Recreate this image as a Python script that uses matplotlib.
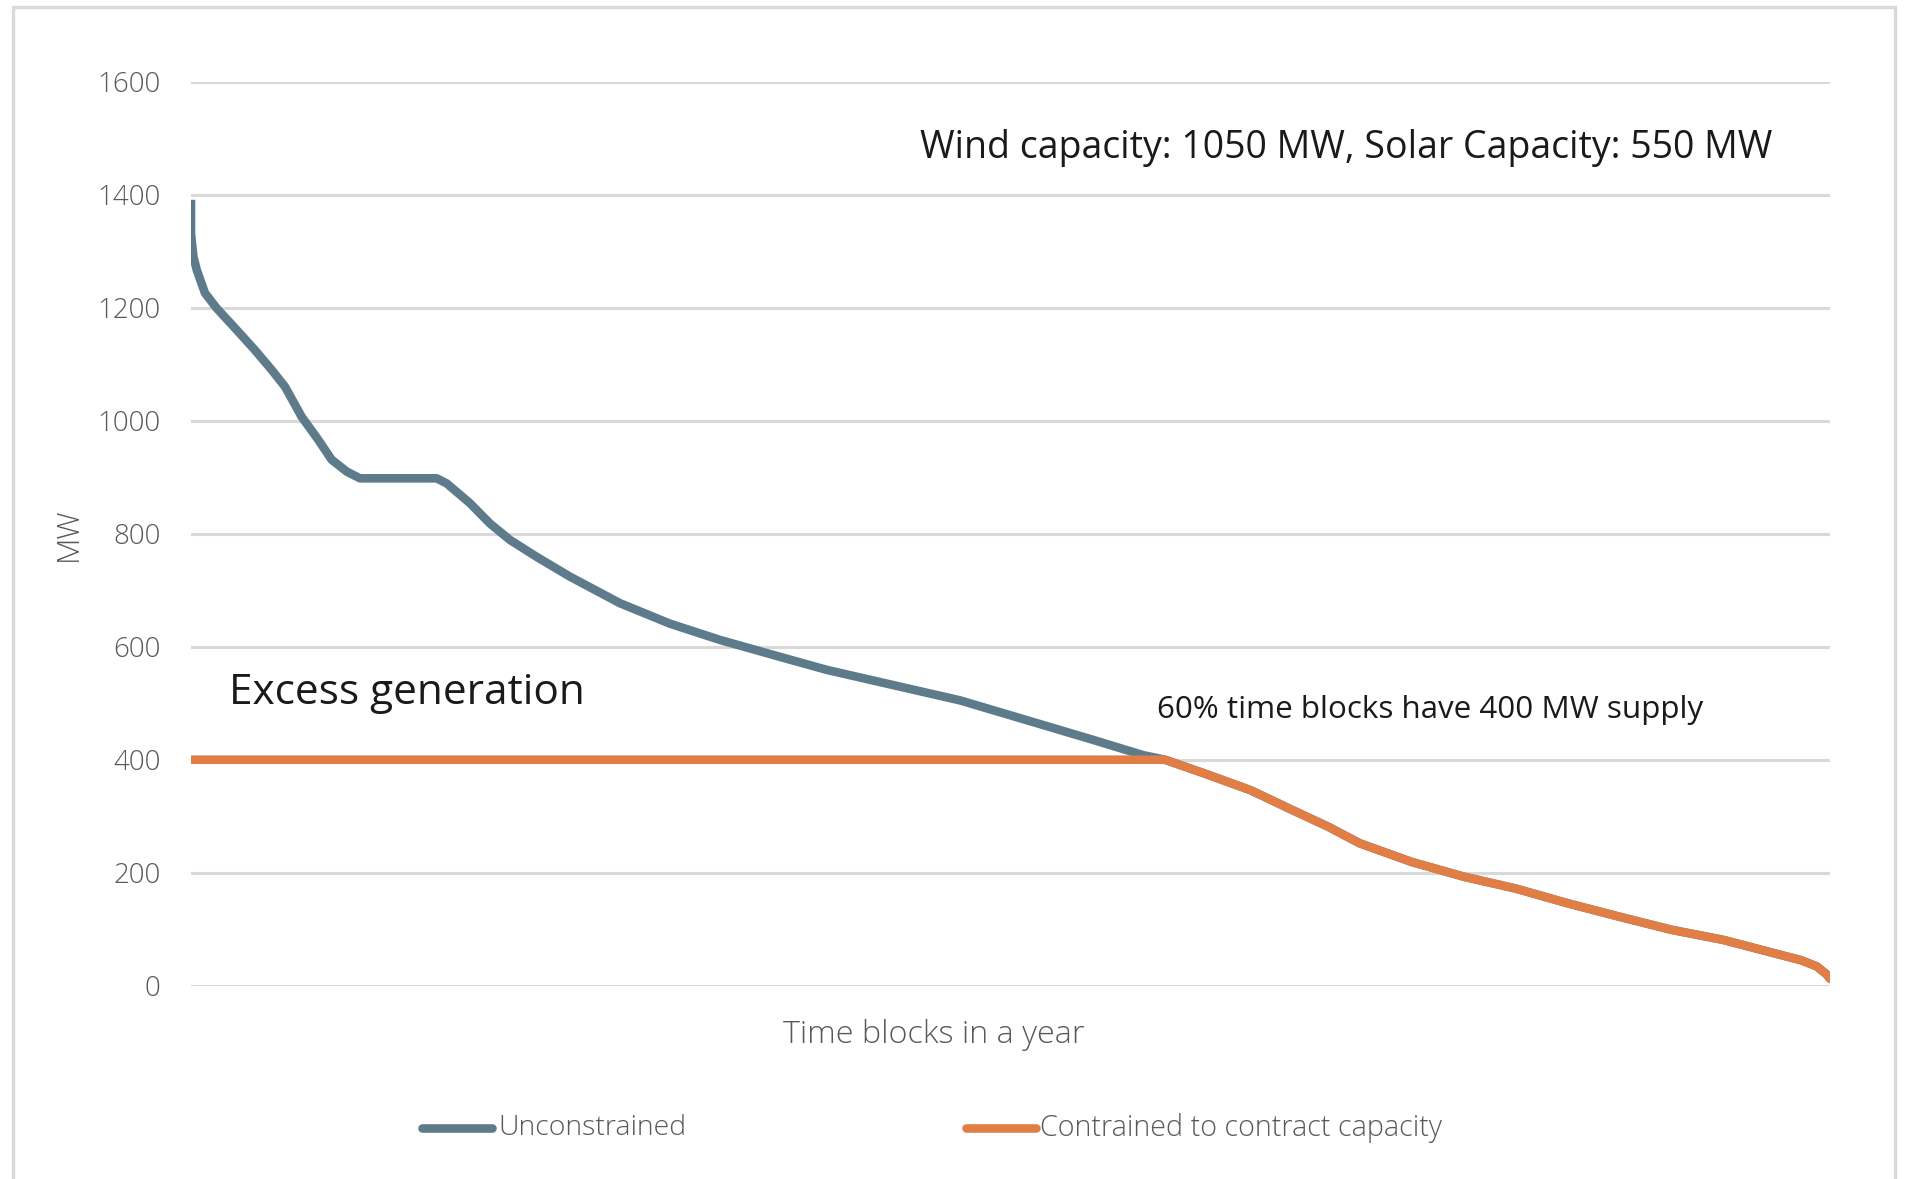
import numpy as np
import matplotlib.pyplot as plt
from matplotlib.patches import Rectangle
from matplotlib.lines import Line2D

# Generation duration curve: share of time blocks (%) vs MW, sorted high to low
time_pct = [0.0, 0.0, 0.15, 0.35, 0.85, 1.57, 2.68, 3.9, 4.92, 5.74, 6.75, 7.77,
            8.58, 9.5, 10.31, 14.99, 15.6, 17.02, 18.24, 19.46, 21.09, 23.12,
            26.17, 29.2, 32.27, 35.94, 38.79, 42.85, 46.92, 50.99,
            55.05, 58.1, 59.42, 61.8, 64.65, 67.19, 69.41, 71.31, 74.48, 77.65,
            80.82, 83.98, 87.16, 90.32, 93.5, 96.66, 98.25, 99.2, 99.84, 100.0]
unconstrained_mw = [1391, 1330, 1290, 1267, 1226, 1199, 1164, 1125, 1090, 1060, 1007, 966,
                    931, 910, 898, 898, 889, 854, 818, 789, 759, 724,
                    677, 641, 612, 582, 559, 532, 505, 470,
                    435, 408, 400, 376, 346, 311, 281, 252, 219, 193,
                    172, 146, 122, 99, 81, 57, 45, 34, 19, 12]
contract_mw = 400
constrained_mw = np.minimum(unconstrained_mw, contract_mw)

y_ticks = [0, 200, 400, 600, 800, 1000, 1200, 1400, 1600]

blue = '#5D7B8B'
orange = '#E07E45'
grid_c = '#D9D9D9'
label_c = '#595959'

plt.rcParams['font.family'] = ['Open Sans', 'DejaVu Sans']

W, H = 1905, 1179
fig = plt.figure(figsize=(W / 100, H / 100), dpi=100)
ax = fig.add_axes([191 / W, 1 - 985.7 / H, (1830 - 191) / W, (985.7 - 81.7) / H])

ax.plot(time_pct, unconstrained_mw, color=blue, lw=6.2, solid_joinstyle='round',
        solid_capstyle='butt', zorder=3)
ax.plot(time_pct, constrained_mw, color=orange, lw=6.2, solid_joinstyle='round',
        solid_capstyle='round', zorder=4)

ax.set_xlim(0, 100)
ax.set_ylim(0, 1600)
ax.set_yticks(y_ticks)
ax.set_xticks([])
ax.grid(axis='y', color=grid_c, lw=2.2)
ax.set_axisbelow(True)
for s in ax.spines.values():
    s.set_visible(False)
ax.tick_params(axis='y', length=0, pad=22, labelsize=20, labelcolor=label_c)
for lbl in ax.get_yticklabels():
    lbl.set_fontweight('light')

# outer chart border
fig.patches.append(Rectangle((13 / W, -0.05), (1895 - 13) / W, 1.05 - 7 / H,
                             transform=fig.transFigure, fill=False,
                             edgecolor=grid_c, lw=2.4))

fig.text(68.5 / W, 1 - 534 / H, 'MW', rotation=90, ha='center', va='center',
         fontsize=22, color=label_c, fontweight='light')
fig.text(783 / W, 1 - 1043 / H, 'Time blocks in a year', ha='left', va='baseline',
         fontsize=23.3, color=label_c, fontweight='light')

fig.text(920 / W, 1 - 158 / H, 'Wind capacity: 1050 MW, Solar Capacity: 550 MW',
         ha='left', va='baseline', fontsize=27, color='#1a1a1a')
fig.text(229 / W, 1 - 704 / H, 'Excess generation', ha='left', va='baseline',
         fontsize=30.5, color='#1a1a1a')
fig.text(1157 / W, 1 - 718 / H, '60% time blocks have 400 MW supply', ha='left',
         va='baseline', fontsize=22.6, color='#1a1a1a')

# legend
leg_y = 1 - 1128 / H
fig.add_artist(Line2D([422 / W, 492 / W], [leg_y, leg_y], color=blue, lw=6.2,
                      solid_capstyle='round', transform=fig.transFigure))
fig.add_artist(Line2D([966 / W, 1036 / W], [leg_y, leg_y], color=orange, lw=6.2,
                      solid_capstyle='round', transform=fig.transFigure))
fig.text(498 / W, leg_y, 'Unconstrained', ha='left', va='center', fontsize=20.5,
         color=label_c, fontweight='light')
fig.text(1040 / W, leg_y, 'Contrained to contract capacity', ha='left', va='center',
         fontsize=20.7, color=label_c, fontweight='light')

fig.savefig('out.png', dpi=100)
